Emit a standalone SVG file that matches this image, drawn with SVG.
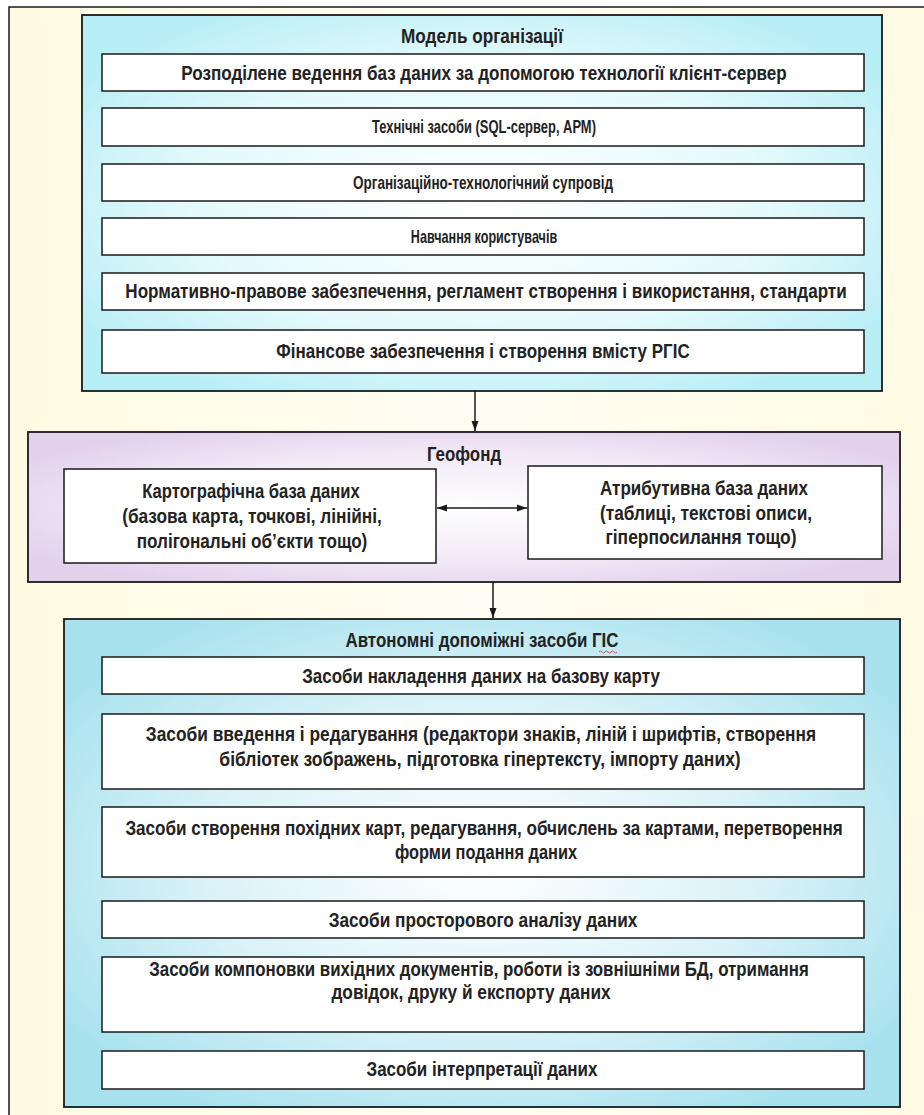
<svg xmlns="http://www.w3.org/2000/svg" width="924" height="1115" viewBox="0 0 924 1115">
<defs>
<linearGradient id="gFrame" x1="0" y1="0" x2="1" y2="0">
<stop offset="0" stop-color="#fffbe2"/><stop offset="0.5" stop-color="#fffdf3"/><stop offset="1" stop-color="#fffbe4"/>
</linearGradient>
<radialGradient id="gCyan" cx="0.5" cy="0.5" r="0.6">
<stop offset="0" stop-color="#ffffff"/><stop offset="0.6" stop-color="#e4fafc"/><stop offset="1" stop-color="#b8eef6"/>
</radialGradient>
<radialGradient id="gLav" cx="0.5" cy="0.5" r="0.6">
<stop offset="0" stop-color="#ffffff"/><stop offset="0.6" stop-color="#f2e9f6"/><stop offset="1" stop-color="#e2d0ed"/>
</radialGradient>
<radialGradient id="gBlue" cx="0.5" cy="0.5" r="0.6">
<stop offset="0" stop-color="#ffffff"/><stop offset="0.55" stop-color="#daf2f8"/><stop offset="1" stop-color="#a8e2ee"/>
</radialGradient>
<marker id="ah" viewBox="0 0 10 10" refX="10" refY="5" markerWidth="10" markerHeight="10" markerUnits="userSpaceOnUse" orient="auto-start-reverse">
<path d="M0,1.5 L10,5 L0,8.5 Z" fill="#1a1a1a"/>
</marker>
<style>
.frame{fill:url(#gFrame);stroke:#1a1a1a;stroke-width:1.5}
.outer{stroke:#1a1a1a;stroke-width:1.8}
.inner{fill:#ffffff;stroke:#1a1a1a;stroke-width:1.5}
.t{font-family:"Liberation Sans",Arial,sans-serif;font-weight:bold;font-size:19.5px;fill:#222222;text-anchor:middle}
.s{font-size:17.5px}
.conn{stroke:#1a1a1a;stroke-width:1.5;fill:none}
</style>
</defs>

<rect class="frame" x="9" y="7" width="920" height="1115"/>

<g id="model">
<rect class="outer" x="82" y="15" width="800" height="376" fill="url(#gCyan)"/>
<text class="t" transform="translate(482,43) scale(0.88,1)">Модель організації</text>
<g id="m1"><rect class="inner" x="102" y="54" width="762" height="37"/>
<text class="t" transform="translate(484,80) scale(0.875,1)">Розподілене ведення баз даних за допомогою технології клієнт-сервер</text></g>
<g id="m2"><rect class="inner" x="102" y="108" width="762" height="38"/>
<text class="t s" transform="translate(484,133) scale(0.74,1)">Технічні засоби (SQL-сервер, АРМ)</text></g>
<g id="m3"><rect class="inner" x="102" y="164" width="762" height="37"/>
<text class="t s" transform="translate(483,189) scale(0.775,1)">Організаційно-технологічний супровід</text></g>
<g id="m4"><rect class="inner" x="102" y="218" width="762" height="37"/>
<text class="t s" transform="translate(484,243) scale(0.72,1)">Навчання користувачів</text></g>
<g id="m5"><rect class="inner" x="102" y="273" width="762" height="37"/>
<text class="t" transform="translate(486,298) scale(0.875,1)">Нормативно-правове забезпечення, регламент створення і використання, стандарти</text></g>
<g id="m6"><rect class="inner" x="102" y="330" width="762" height="43"/>
<text class="t" transform="translate(483,358) scale(0.871,1)">Фінансове забезпечення і створення вмісту РГІС</text></g>
</g>

<g id="geofond">
<rect class="outer" x="28" y="432" width="872" height="150" fill="url(#gLav)"/>
<text class="t" transform="translate(464,461) scale(0.866,1)">Геофонд</text>
<g id="cart"><rect class="inner" x="64" y="469" width="372" height="94"/>
<text class="t" transform="translate(251,498) scale(0.853,1)">Картографічна база даних</text>
<text class="t" transform="translate(252,523) scale(0.885,1)">(базова карта, точкові, лінійні,</text>
<text class="t" transform="translate(252,548) scale(0.877,1)">полігональні об’єкти тощо)</text></g>
<g id="attr"><rect class="inner" x="528" y="466" width="354" height="93"/>
<text class="t" transform="translate(704,495) scale(0.873,1)">Атрибутивна база даних</text>
<text class="t" transform="translate(706,520) scale(0.885,1)">(таблиці, текстові описи,</text>
<text class="t" transform="translate(701,544) scale(0.894,1)">гіперпосилання тощо)</text></g>
</g>

<g id="tools">
<rect class="outer" x="64" y="619" width="836" height="488" fill="url(#gBlue)"/>
<text class="t" transform="translate(482,647) scale(0.869,1)">Автономні допоміжні засоби ГІС</text>
<path d="M599,652 q1.5,-2 3,0 t3,0 t3,0 t3,0 t3,0 t3,0" fill="none" stroke="#d04040" stroke-width="0.9"/>
<g id="t1"><rect class="inner" x="102" y="657" width="762" height="37"/>
<text class="t" transform="translate(481,683) scale(0.871,1)">Засоби накладення даних на базову карту</text></g>
<g id="t2"><rect class="inner" x="102" y="714" width="762" height="75"/>
<text class="t" transform="translate(481,741) scale(0.888,1)">Засоби введення і редагування (редактори знаків, ліній і шрифтів, створення</text>
<text class="t" transform="translate(480,766) scale(0.897,1)">бібліотек зображень, підготовка гіпертексту, імпорту даних)</text></g>
<g id="t3"><rect class="inner" x="102" y="807" width="762" height="70"/>
<text class="t" transform="translate(484,835) scale(0.875,1)">Засоби створення похідних карт, редагування, обчислень за картами, перетворення</text>
<text class="t" transform="translate(486,859) scale(0.84,1)">форми подання даних</text></g>
<g id="t4"><rect class="inner" x="102" y="901" width="762" height="37"/>
<text class="t" transform="translate(483,927) scale(0.883,1)">Засоби просторового аналізу даних</text></g>
<g id="t5"><rect class="inner" x="102" y="957" width="762" height="75"/>
<text class="t" transform="translate(479,976) scale(0.864,1)">Засоби компоновки вихідних документів, роботи із зовнішніми БД, отримання</text>
<text class="t" transform="translate(471,999) scale(0.885,1)">довідок, друку й експорту даних</text></g>
<g id="t6"><rect class="inner" x="102" y="1051" width="762" height="38"/>
<text class="t" transform="translate(482,1076) scale(0.87,1)">Засоби інтерпретації даних</text></g>
</g>

<g id="connectors">
<line class="conn" x1="475" y1="391" x2="475" y2="431" marker-end="url(#ah)"/>
<line class="conn" x1="437" y1="508" x2="527" y2="508" marker-start="url(#ah)" marker-end="url(#ah)"/>
<line class="conn" x1="493" y1="582" x2="493" y2="618" marker-end="url(#ah)"/>
</g>
</svg>
